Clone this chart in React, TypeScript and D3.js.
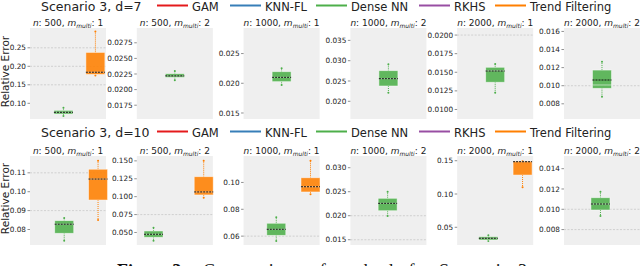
import React from "react";
import * as d3 from "d3";

const methods = ["GAM", "KNN-FL", "Dense NN", "RKHS", "Trend Filtering"];
const methodColors = ["#e41a1c", "#377eb8", "#4daf4a", "#984ea3", "#ff7f00"];
const scenarioTitles = ["Scenario 3, d=7", "Scenario 3, d=10"];
const panelN = [500, 500, 1000, 1000, 2000, 2000];
const panelM = [1, 2, 1, 2, 1, 2];

// y limits of each subplot, per row
const yLimitsD7 = [
  [0.0576, 0.3035], [0.01529, 0.02987], [0.01399, 0.0293],
  [0.01564, 0.03805], [0.00872, 0.02095], [0.00632, 0.01638],
];
const yLimitsD10 = [
  [0.0718, 0.1189], [0.0325, 0.1568], [0.0534, 0.1197],
  [0.0139, 0.03244], [0.0234, 0.1571], [0.00648, 0.01525],
];

const ticksD7 = [
  [0.1, 0.15, 0.2, 0.25], [0.0175, 0.02, 0.0225, 0.025, 0.0275], [0.015, 0.02, 0.025],
  [0.02, 0.025, 0.03, 0.035], [0.01, 0.0125, 0.015, 0.0175, 0.02], [0.008, 0.01, 0.012, 0.014, 0.016],
];
const ticksD10 = [
  [0.08, 0.09, 0.1, 0.11], [0.05, 0.075, 0.1, 0.125, 0.15], [0.06, 0.08, 0.1],
  [0.015, 0.02, 0.025, 0.03], [0.05, 0.1, 0.15], [0.008, 0.01, 0.012, 0.014],
];
const decimalsD7 = [2, 4, 3, 3, 4, 3];
const decimalsD10 = [2, 3, 2, 3, 2, 3];

// faint horizontal reference lines
const gridD7 = [[0.15, 0.2, 0.25], [], [], [], [0.02], [0.01]];
const gridD10 = [[0.09, 0.11], [0.075], [0.06], [0.015, 0.02], [], [0.008, 0.01]];

// box stats: [whiskerLow, q1, median, mean, q3, whiskerHigh]
const boxesD7 = [
  { panel: 0, method: 2, x: 0.44, stats: [0.066, 0.071, 0.076, 0.0757, 0.081, 0.088] },
  { panel: 0, method: 4, x: 0.86, stats: [0.175, 0.178, 0.184, 0.184, 0.2376, 0.294] },
  { panel: 1, method: 2, x: 0.5, stats: [0.0215, 0.02195, 0.0222, 0.0222, 0.02255, 0.023] },
  { panel: 2, method: 2, x: 0.5, stats: [0.01971, 0.02027, 0.021, 0.021, 0.02195, 0.02253] },
  { panel: 3, method: 2, x: 0.5, stats: [0.0221, 0.02377, 0.02557, 0.02557, 0.02754, 0.0291] },
  { panel: 4, method: 2, x: 0.5, stats: [0.01226, 0.01366, 0.0152, 0.01517, 0.01567, 0.01612] },
  { panel: 5, method: 2, x: 0.5, stats: [0.00878, 0.00971, 0.01008, 0.01063, 0.01173, 0.01265] },
];
const boxesD10 = [
  { panel: 0, method: 2, x: 0.45, stats: [0.0741, 0.078, 0.0828, 0.0828, 0.0847, 0.0861] },
  { panel: 0, method: 4, x: 0.895, stats: [0.085, 0.0956, 0.1067, 0.1067, 0.1119, 0.1164] },
  { panel: 1, method: 2, x: 0.22, stats: [0.0385, 0.0433, 0.0475, 0.0475, 0.0521, 0.0567] },
  { panel: 1, method: 4, x: 0.88, stats: [0.0986, 0.1024, 0.1066, 0.1066, 0.1279, 0.1503] },
  { panel: 2, method: 2, x: 0.43, stats: [0.0564, 0.0606, 0.0651, 0.0651, 0.0696, 0.074] },
  { panel: 2, method: 4, x: 0.88, stats: [0.0912, 0.0929, 0.0968, 0.0968, 0.1035, 0.1162] },
  { panel: 3, method: 2, x: 0.49, stats: [0.01994, 0.02104, 0.02258, 0.02258, 0.02363, 0.025] },
  { panel: 4, method: 2, x: 0.41, stats: [0.0294, 0.0309, 0.0335, 0.0335, 0.0359, 0.038] },
  { panel: 4, method: 4, x: 0.86, stats: [0.11, 0.1285, 0.1485, 0.1485, 0.1495, 0.1495] },
  { panel: 5, method: 2, x: 0.48, stats: [0.00934, 0.00993, 0.01052, 0.01052, 0.01114, 0.01173] },
];

const rows = [
  { title: scenarioTitles[0], limits: yLimitsD7, ticks: ticksD7, decimals: decimalsD7, grid: gridD7, boxes: boxesD7 },
  { title: scenarioTitles[1], limits: yLimitsD10, ticks: ticksD10, decimals: decimalsD10, grid: gridD10, boxes: boxesD10 },
];

const width = 640;
const height = 266;
const font = "DejaVu Sans, sans-serif";
const rowTops = [28, 156];
const rowBottoms = [119, 245];
const headerBaselines = [10.5, 136.5];
const legendX = [157, 230, 316, 419, 495];

export default function App() {
  const panelX = d3
    .scaleBand<number>()
    .domain(d3.range(6))
    .range([30, 640])
    .paddingInner(0.288)
    .paddingOuter(0);
  const bw = panelX.bandwidth();

  return (
    <svg width={width} height={height} style={{ position: "absolute", left: 0, top: 0, display: "block" }}>
      <rect width={width} height={height} fill="#fff" />
      {rows.map((row, r) => {
        const top = rowTops[r];
        const bottom = rowBottoms[r];
        const base = headerBaselines[r];
        return (
          <g key={r}>
            <text x={41} y={base} fontFamily={font} fontSize={12.5} fill="#222">
              {row.title}
            </text>
            {methods.map((m, i) => (
              <g key={m}>
                <line x1={legendX[i]} x2={legendX[i] + 31} y1={base - 5} y2={base - 5} stroke={methodColors[i]} strokeWidth={2} />
                <text x={legendX[i] + 35} y={base} fontFamily={font} fontSize={11.5} fill="#222">
                  {m}
                </text>
              </g>
            ))}
            <text
              transform={`translate(9, ${(top + bottom) / 2 - 2}) rotate(-90)`}
              textAnchor="middle"
              fontFamily={font}
              fontSize={10.5}
              fill="#222"
            >
              Relative Error
            </text>
            {d3.range(6).map((p) => {
              const x0 = panelX(p) as number;
              const y = d3.scaleLinear().domain(row.limits[p]).range([bottom, top]);
              const x = d3.scaleLinear().domain([0, 1]).range([x0, x0 + bw]);
              const fmt = d3.format(`.${row.decimals[p]}f`);
              return (
                <g key={p}>
                  <rect x={x0} y={top} width={bw} height={bottom - top} fill="#efefef" />
                  <text x={x0 + bw / 2} y={top - 2} textAnchor="middle" fontFamily={font} fontSize={9} fill="#222">
                    <tspan fontStyle="italic">n</tspan>
                    {`: ${panelN[p]}, `}
                    <tspan fontStyle="italic">m</tspan>
                    <tspan fontStyle="italic" fontSize={6} dy={1.5}>multi</tspan>
                    <tspan dy={-1.5}>{`: ${panelM[p]}`}</tspan>
                  </text>
                  {row.grid[p].map((g) => (
                    <line key={g} x1={x0} x2={x0 + bw} y1={y(g)} y2={y(g)} stroke="#c8c8c8" strokeWidth={0.8} strokeDasharray="2,1.5" />
                  ))}
                  {row.ticks[p].map((t) => (
                    <g key={t}>
                      <line x1={x0 - 2.5} x2={x0} y1={y(t)} y2={y(t)} stroke="#444" strokeWidth={0.6} />
                      <text x={x0 - 4} y={y(t)} dy="0.35em" textAnchor="end" fontFamily={font} fontSize={7.3} fill="#222">
                        {fmt(t)}
                      </text>
                    </g>
                  ))}
                  {row.boxes
                    .filter((b) => b.panel === p)
                    .map((b, i) => {
                      const [lo, q1, med, mean, q3, hi] = b.stats;
                      const cx = x(b.x);
                      const half = bw * 0.125;
                      const c = methodColors[b.method];
                      return (
                        <g key={i}>
                          <line x1={cx} x2={cx} y1={y(q3)} y2={y(hi)} stroke={c} strokeWidth={1} strokeDasharray="1,1" />
                          <line x1={cx} x2={cx} y1={y(q1)} y2={y(lo)} stroke={c} strokeWidth={1} strokeDasharray="1,1" />
                          <circle cx={cx} cy={y(hi)} r={1} fill={c} />
                          <circle cx={cx} cy={y(lo)} r={1} fill={c} />
                          <rect
                            x={cx - half}
                            y={y(q3)}
                            width={half * 2}
                            height={Math.max(1, y(q1) - y(q3))}
                            fill={c}
                            fillOpacity={0.88}
                            stroke="#fff"
                            strokeOpacity={0.6}
                            strokeWidth={0.8}
                          />
                          <line x1={cx - half} x2={cx + half} y1={y(med)} y2={y(med)} stroke="#fff" strokeOpacity={0.55} strokeWidth={1} />
                          <line x1={cx - half} x2={cx + half} y1={y(mean)} y2={y(mean)} stroke="#111" strokeWidth={1} strokeDasharray="2,1" />
                        </g>
                      );
                    })}
                </g>
              );
            })}
          </g>
        );
      })}
      <text x={117} y={276.5} fontFamily="Liberation Serif, serif" fontSize={18} fontWeight="bold" fill="#111">
        Figure 3:
      </text>
      <text x={203} y={276.5} fontFamily="Liberation Serif, serif" fontSize={18} fill="#111" textLength={324} lengthAdjust="spacing">
        Comparison of methods for Scenario 3
      </text>
    </svg>
  );
}
